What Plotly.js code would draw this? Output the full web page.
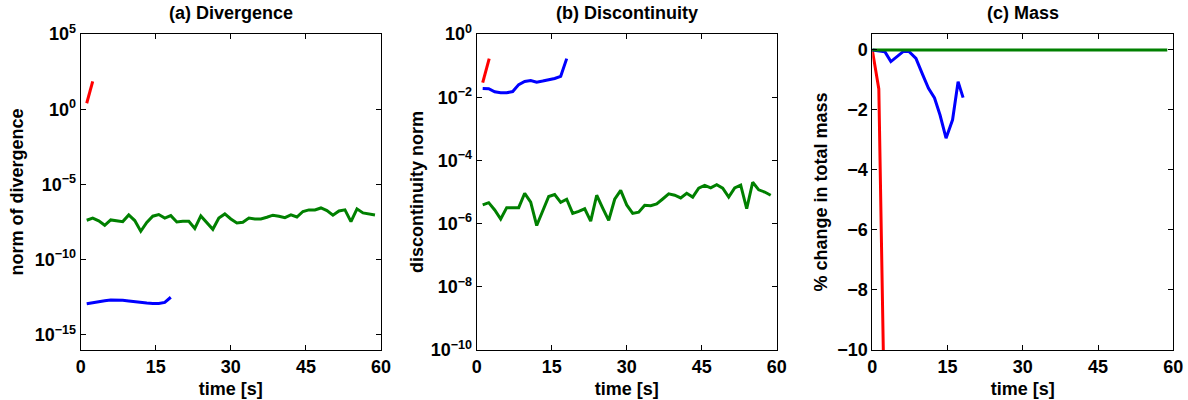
<!DOCTYPE html>
<html><head><meta charset="utf-8">
<script src="https://cdn.plot.ly/plotly-3.0.1.min.js"></script>
<style>html,body{margin:0;padding:0;background:#fff}</style>
</head><body><div id="chart" style="width:1188px;height:400px"></div>
<script>
// ---- data ----
const timeSteps = [1.2,2.4,3.6,4.8,6.0,7.2,8.4,9.6,10.8,12.0,13.2,14.4,15.6,16.8,18.0,19.2,20.4,21.6,22.8,24.0,25.2,26.4,27.6,28.8,30.0,31.2,32.4,33.6,34.8,36.0,37.2,38.4,39.6,40.8,42.0,43.2,44.4,45.6,46.8,48.0,49.2,50.4,51.6,52.8,54.0,55.2,56.4,57.6,58.8];
const shortSteps = [1.2,2.4,3.6,4.8,6.0,7.2,8.4,9.6,10.8,12.0,13.2,14.4,15.6,16.8,18.0];

const divGreen = [4.2e-8,5.8e-8,3.8e-8,1.95e-8,4.4e-8,4.0e-8,3.4e-8,9.5e-8,4.0e-8,7.8e-9,3.0e-8,7.8e-8,1.0e-7,5.8e-8,8.5e-8,3.2e-8,3.6e-8,3.6e-8,1.2e-8,8.1e-8,3.1e-8,1.05e-8,5.8e-8,1.1e-7,5.1e-8,2.75e-8,3.1e-8,5.8e-8,5.1e-8,5.1e-8,6.6e-8,9.1e-8,7.8e-8,6.3e-8,9.5e-8,6.9e-8,1.6e-7,2.05e-7,2.05e-7,2.75e-7,1.86e-7,9.1e-8,1.74e-7,2.05e-7,3.4e-8,2.4e-7,1.29e-7,1.1e-7,9.5e-8];
const divBlue = [1.17e-13,1.41e-13,1.66e-13,1.9e-13,2.1e-13,2.15e-13,2.05e-13,1.82e-13,1.58e-13,1.41e-13,1.32e-13,1.23e-13,1.23e-13,1.45e-13,3.2e-13];
const divRedTime = [1.2,2.4];
const divRed = [2.5,70];

const discGreen = [3.9e-6,4.6e-6,2.7e-6,1.4e-6,3.2e-6,3.2e-6,3.2e-6,9.1e-6,4.8e-6,8.7e-7,2.6e-6,7.2e-6,8.3e-6,4.7e-6,5.9e-6,2.1e-6,2.45e-6,2.95e-6,1.2e-6,7.9e-6,3.1e-6,1.26e-6,5.9e-6,1.12e-5,3.9e-6,2.1e-6,2.3e-6,3.8e-6,3.7e-6,4.2e-6,6.0e-6,8.7e-6,7.9e-6,6.5e-6,9.1e-6,6.9e-6,1.32e-5,1.62e-5,1.35e-5,1.7e-5,1.32e-5,6.9e-6,1.35e-5,1.66e-5,2.95e-6,2.04e-5,1.17e-5,1.0e-5,7.9e-6];
const discBlue = [0.019,0.0186,0.0148,0.0138,0.0138,0.0151,0.025,0.0316,0.0339,0.030,0.0324,0.0355,0.039,0.0457,0.166];
const discRedTime = [1.2,2.0,2.5];
const discRed = [0.029,0.076,0.166];

const massGreenTime = [0,58.8];
const massGreen = [0,0];
const massBlueTime = [0,1.2,2.5,3.7,5.0,6.2,7.3,8.7,10.1,11.2,12.4,13.5,14.7,16.0,17.1,18.1];
const massBlue = [0,-0.02,-0.06,-0.39,-0.2,-0.05,-0.05,-0.28,-0.85,-1.28,-1.6,-2.17,-2.94,-2.33,-1.06,-1.59];
const massRedTime = [0,1.3,2.4];
const massRed = [0,-1.3,-12];

const divTickVals = [1e-15,1e-10,1e-5,1,1e5];
const divTickText = ['10<sup>\u221215</sup>','10<sup>\u221210</sup>','10<sup>\u22125</sup>','10<sup>0</sup>','10<sup>5</sup>'];
const discTickVals = [1e-10,1e-8,1e-6,1e-4,1e-2,1];
const discTickText = ['10<sup>\u221210</sup>','10<sup>\u22128</sup>','10<sup>\u22126</sup>','10<sup>\u22124</sup>','10<sup>\u22122</sup>','10<sup>0</sup>'];
const massTicks = [-10,-8,-6,-4,-2,0];
const timeTicks = [0,15,30,45,60];
const panelTitles = ['(a) Divergence','(b) Discontinuity','(c) Mass'];
const yTitles = ['norm of divergence','discontinuity norm','% change in total mass'];
const xTitle = 'time [s]';

// ---- styling ----
const RED='#ff0000', BLUE='#0000ff', GREEN='#008000';
const FONT = {family:'Liberation Sans, Arial, sans-serif', size:18, color:'#000', weight:'bold'};
const TFONT = {family:'Liberation Sans, Arial, sans-serif', size:18, color:'#000', weight:'bold'};
function line(x,y,c,xa,ya){return {x:x,y:y,type:'scatter',mode:'lines',line:{color:c,width:3},xaxis:xa,yaxis:ya,showlegend:false,hoverinfo:'skip'};}

const traces = [
  line(divRedTime,divRed,RED,'x','y'),
  line(shortSteps,divBlue,BLUE,'x','y'),
  line(timeSteps,divGreen,GREEN,'x','y'),
  line(discRedTime,discRed,RED,'x2','y2'),
  line(shortSteps,discBlue,BLUE,'x2','y2'),
  line(timeSteps,discGreen,GREEN,'x2','y2'),
  line(massRedTime,massRed,RED,'x3','y3'),
  line(massBlueTime,massBlue,BLUE,'x3','y3'),
  line(massGreenTime,massGreen,GREEN,'x3','y3')
];

const W=1188,H=400;
const yDom=[(H-350)/H,(H-34)/H];
const xDoms=[[80.7/W,381/W],[476.7/W,776.7/W],[872.3/W,1173.3/W]];
const yStandoff=[6,2,4];

function xax(i,anchor){return {domain:xDoms[i],anchor:anchor,range:[0,60],tickvals:timeTicks,ticks:'inside',ticklen:5,tickcolor:'#000',
  showline:true,linecolor:'#000',linewidth:1,mirror:'ticks',showgrid:false,zeroline:false,tickfont:FONT,
  title:{text:xTitle,font:TFONT,standoff:6}};}
function yax(i,anchor,extra){return Object.assign({domain:yDom,anchor:anchor,ticks:'inside',ticklen:5,tickcolor:'#000',
  showline:true,linecolor:'#000',linewidth:1,mirror:'ticks',showgrid:false,zeroline:false,tickfont:FONT,
  title:{text:yTitles[i],font:TFONT,standoff:yStandoff[i]}},extra);}

const layout = {
  width:W,height:H,margin:{l:0,r:0,t:0,b:0},paper_bgcolor:'#fff',plot_bgcolor:'#fff',font:FONT,
  xaxis:xax(0,'y'), yaxis:yax(0,'x',{type:'log',range:[-16,5],tickvals:divTickVals,ticktext:divTickText}),
  xaxis2:xax(1,'y2'), yaxis2:yax(1,'x2',{type:'log',range:[-10,0],tickvals:discTickVals,ticktext:discTickText}),
  xaxis3:xax(2,'y3'), yaxis3:yax(2,'x3',{range:[-10,0.53],tickvals:massTicks}),
  annotations: panelTitles.map((t,i)=>({text:t,xref:'paper',yref:'paper',x:(xDoms[i][0]+xDoms[i][1])/2,y:(H-13)/H,
    xanchor:'center',yanchor:'middle',showarrow:false,font:TFONT}))
};
Plotly.newPlot('chart',traces,layout,{staticPlot:true});
</script></body></html>
